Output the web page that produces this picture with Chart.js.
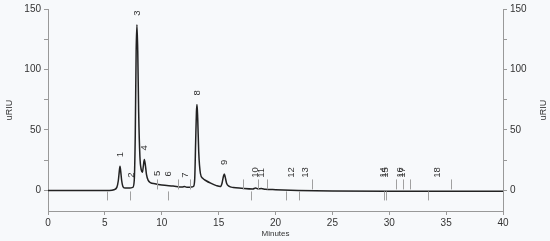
<!DOCTYPE html>
<html>
<head>
<meta charset="utf-8">
<script src="https://cdn.jsdelivr.net/npm/chart.js@4.4.1/dist/chart.umd.min.js"></script>
<style>
  html, body { margin: 0; padding: 0; background: #f7f9fb; }
  canvas { display: block; }
</style>
</head>
<body>
<canvas id="chrom" width="550" height="241"></canvas>
<script>
// trace (minutes, uRIU)
const times = [0, 5.4, 5.8, 6.05, 6.18, 6.27, 6.33, 6.39, 6.48, 6.6, 6.8, 7.2, 7.45, 7.58, 7.67, 7.75, 7.82, 7.89, 7.97, 8.08,
    8.2, 8.3, 8.38, 8.47, 8.56, 8.66, 8.8, 9.0, 9.4, 10.0, 11.0, 11.8, 12.0, 12.2, 12.6, 12.8, 12.9, 12.98, 13.05, 13.1,
    13.16, 13.25, 13.4, 13.6, 13.9, 14.3, 14.8, 15.15, 15.3, 15.42, 15.5, 15.58, 15.7, 15.9, 16.3, 17.0, 18.0, 18.25, 18.45, 18.75,
    19.1, 20.0, 22.0, 25.0, 30.0, 40.0];
const signal = [0, 0, 0.6, 2.5, 8, 16, 20, 16, 8, 3, 2, 2, 2.5, 8, 45, 115, 137, 115, 65, 28,
    17, 15, 20, 25.5, 21, 13, 8.5, 6.5, 5.5, 4.5, 3.6, 2.8, 3.2, 2.6, 2.8, 3.5, 10, 40, 65, 71,
    60, 32, 14, 10, 8, 6, 4, 3.2, 6, 11.5, 13.6, 11, 6, 3.5, 2.4, 1.8, 1.2, 2, 1.3, 1.5,
    1, 0.6, 0, -0.4, -0.6, -0.6];

// peak labels
const peakNames = ['1', '2', '3', '4', '5', '6', '7', '8', '9', '10', '11', '12', '13', '14', '15', '16', '17', '18'];
const peakTimes = [6.33, 7.36, 7.82, 8.44, 9.58, 10.61, 12.04, 13.1, 15.5, 18.24, 18.79, 21.42, 22.6, 29.45, 29.7, 30.95, 31.15, 34.2];
const peakHeights = [20, 2, 137, 25.5, 4.5, 4, 3, 71, 13.6, 1.5, 1.3, 0.3, 0.1, -0.5, -0.5, -0.5, -0.5, -0.5];

// integration event marks
const upTicks = [9.55, 11.4, 12.5, 17.1, 18.5, 19.25, 23.2, 30.55, 31.2, 31.8, 35.4];
const downTicks = [5.2, 7.25, 10.55, 17.85, 20.9, 22.1, 29.5, 29.7, 33.4];

const xTicks = [0, 5, 10, 15, 20, 25, 30, 35, 40];
const yTicks = [0, 25, 50, 75, 100, 125, 150];

const fontFamily = '"Liberation Sans", Arial, sans-serif';

const bgPlugin = {
    id: 'bg',
    beforeDraw(chart) {
        const ctx = chart.ctx;
        ctx.save();
        ctx.fillStyle = '#f7f9fb';
        ctx.fillRect(0, 0, chart.width, chart.height);
        ctx.restore();
    }
};

const markPlugin = {
    id: 'marks',
    afterDatasetsDraw(chart) {
        const ctx = chart.ctx;
        const x = chart.scales.x;
        const y = chart.scales.y;
        const y0 = y.getPixelForValue(0);
        ctx.save();
        ctx.strokeStyle = '#a0a0a0';
        ctx.lineWidth = 1;
        ctx.beginPath();
        upTicks.forEach(t => {
            const px = Math.round(x.getPixelForValue(t)) + 0.5;
            ctx.moveTo(px, y0 - 1);
            ctx.lineTo(px, y0 - 11);
        });
        downTicks.forEach(t => {
            const px = Math.round(x.getPixelForValue(t)) + 0.5;
            ctx.moveTo(px, y0 + 1);
            ctx.lineTo(px, y0 + 10);
        });
        ctx.stroke();

        ctx.fillStyle = '#333';
        ctx.font = '9.5px ' + fontFamily;
        ctx.textAlign = 'left';
        ctx.textBaseline = 'middle';
        peakNames.forEach((name, i) => {
            const px = x.getPixelForValue(peakTimes[i]);
            const py = y.getPixelForValue(Math.max(peakHeights[i], 3)) - 9;
            ctx.save();
            ctx.translate(px, py);
            ctx.rotate(-Math.PI / 2);
            ctx.fillText(name, 0, 0);
            ctx.restore();
        });

        // right axis title, same reading direction as the left one
        const area = chart.chartArea;
        ctx.font = '9px ' + fontFamily;
        ctx.textAlign = 'center';
        ctx.save();
        ctx.translate(544, (area.top + area.bottom) / 2);
        ctx.rotate(-Math.PI / 2);
        ctx.fillText('uRIU', 0, 0);
        ctx.restore();
        ctx.restore();
    }
};

const axisFont = { family: fontFamily, size: 10 };

function yAxis(position, width, showTitle) {
    return {
        type: 'linear',
        position: position,
        min: -17,
        max: 150,
        afterBuildTicks: s => { s.ticks = yTicks.map(v => ({ value: v })); },
        afterFit: s => { s.width = width; },
        ticks: {
            color: '#333',
            font: axisFont,
            padding: 3,
            callback: v => (v % 50 === 0 ? v : '')
        },
        grid: { drawOnChartArea: false, tickLength: 4, color: '#999' },
        border: { color: '#999' },
        title: {
            display: showTitle,
            text: 'uRIU',
            color: '#333',
            font: { family: fontFamily, size: 9 },
            padding: 4
        }
    };
}

new Chart(document.getElementById('chrom').getContext('2d'), {
    type: 'line',
    data: {
        datasets: [{
            data: times.map((t, i) => ({ x: t, y: signal[i] })),
            borderColor: '#222',
            borderWidth: 1.5,
            pointRadius: 0,
            cubicInterpolationMode: 'monotone',
            yAxisID: 'y'
        }]
    },
    options: {
        responsive: false,
        animation: false,
        devicePixelRatio: 1,
        layout: { padding: { top: 5, left: 0, right: 0, bottom: 0 } },
        plugins: { legend: { display: false }, tooltip: { enabled: false } },
        scales: {
            x: {
                type: 'linear',
                min: 0,
                max: 40,
                afterBuildTicks: s => { s.ticks = xTicks.map(v => ({ value: v })); },
                afterFit: s => { s.height = 30; },
                ticks: { color: '#333', font: axisFont, padding: 2, maxRotation: 0 },
                grid: { drawOnChartArea: false, tickLength: 4, color: '#999' },
                border: { color: '#999' },
                title: {
                    display: true,
                    text: 'Minutes',
                    color: '#333',
                    font: { family: fontFamily, size: 8 },
                    padding: { top: 0, bottom: 2 }
                }
            },
            y: yAxis('left', 48, true),
            y2: yAxis('right', 47, false)
        }
    },
    plugins: [bgPlugin, markPlugin]
});
</script>
</body>
</html>
